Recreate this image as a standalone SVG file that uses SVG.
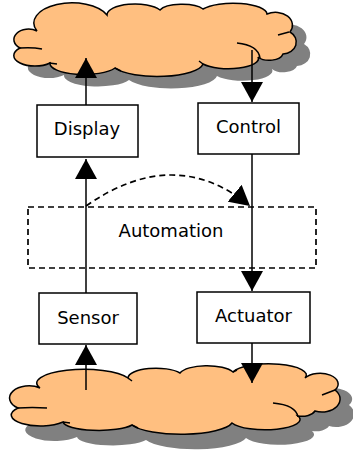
<svg xmlns="http://www.w3.org/2000/svg" width="353" height="450" viewBox="0 0 353 450">
<defs>
<style>
.box{fill:#fff;stroke:#000;stroke-width:1.5}
.cloud{fill:#ffbf80;stroke:#000;stroke-width:1.5}
.shadow{fill:#808080;stroke:none}
.crease{fill:none;stroke:#000;stroke-width:1.5}
.lbl{font-family:"DejaVu Sans",Verdana,sans-serif;font-size:18px;fill:#000;text-anchor:middle}
.conn{fill:none;stroke:#000;stroke-width:1.5}
.dash{fill:none;stroke:#000;stroke-width:1.7;stroke-dasharray:6 4}
</style>
<marker id="ah" markerUnits="userSpaceOnUse" markerWidth="21" markerHeight="22" refX="20" refY="11" orient="auto" viewBox="0 0 21 22">
<path d="M0 0 L20 11 L0 22 Z" fill="#000"/>
</marker>
<path id="cloudTop" d="M37 31 A38 20 0 0 1 107 15 A28 11 0 0 1 160 10 A23 8 0 0 1 203 9 A34 11 0 0 1 267 14 A17 13 0 0 1 290 32 A14 12 0 0 1 283 54 A14 8 0 0 1 258 57 A30 10 0 0 1 203 64 A46 14 0 0 1 115 68 A34 11 0 0 1 50 63 A18 9 0 0 1 20 48 A14 10 0 0 1 37 31 Z"/>
<path id="cloudBot" d="M40 388 A45 13 0 0 1 128 378 A28 10 0 0 1 180 373 A28 10 0 0 1 233 372 A37 11 0 0 1 305 378 A17 10 0 0 1 335 390 A18 13 0 0 1 315 411 A14 8 0 0 1 298 416 A34 10 0 0 1 232 423 A52 14 0 0 1 132 425 A36 9 0 0 1 63 422 A24 9 0 0 1 18 408 A16 10 0 0 1 40 388 Z"/>
</defs>

<g id="cloud-top">
<use href="#cloudTop" class="shadow" transform="translate(14,12)"/>
<use href="#cloudTop" class="cloud"/>
<path class="crease" d="M20 48 Q32 47 42 49 M237 43 Q258 45 260 58 M278 35 L289 32 M49 63 L57 64 M115 68 L121 71 M203 64 L199 61"/>
</g>

<g id="cloud-bottom">
<use href="#cloudBot" class="shadow" transform="translate(14,15)"/>
<use href="#cloudBot" class="cloud"/>
<path class="crease" d="M18 408 Q32 407 47 408 M273 403 Q296 405 298 417 M322 395 L335 390 M128 378 L132 381 M233 372 L237 370 M63 422 L70 423 M132 425 L138 428"/>
</g>

<g id="automation">
<rect x="28" y="207" width="288" height="61" class="dash"/>
<text x="171" y="237" class="lbl">Automation</text>
</g>

<g id="connectors">
<line x1="86" y1="105" x2="86" y2="58" class="conn" marker-end="url(#ah)"/>
<line x1="252" y1="50" x2="252" y2="102" class="conn" marker-end="url(#ah)"/>
<line x1="86" y1="293" x2="86" y2="159" class="conn" marker-end="url(#ah)"/>
<line x1="252" y1="154" x2="252" y2="291" class="conn" marker-end="url(#ah)"/>
<line x1="86" y1="390" x2="86" y2="345" class="conn" marker-end="url(#ah)"/>
<line x1="252" y1="343" x2="252" y2="383" class="conn" marker-end="url(#ah)"/>
<path d="M86 206 Q175 144 250 206" class="dash" marker-end="url(#ah)"/>
</g>

<g id="display">
<rect x="37" y="105" width="101" height="52" class="box"/>
<text x="87" y="135" class="lbl">Display</text>
</g>
<g id="control">
<rect x="198" y="103" width="101" height="51" class="box"/>
<text x="248.5" y="133" class="lbl">Control</text>
</g>
<g id="sensor">
<rect x="39" y="293" width="98" height="51" class="box"/>
<text x="88" y="324" class="lbl">Sensor</text>
</g>
<g id="actuator">
<rect x="197" y="292" width="113" height="51" class="box"/>
<text x="253.5" y="322" class="lbl">Actuator</text>
</g>
</svg>
